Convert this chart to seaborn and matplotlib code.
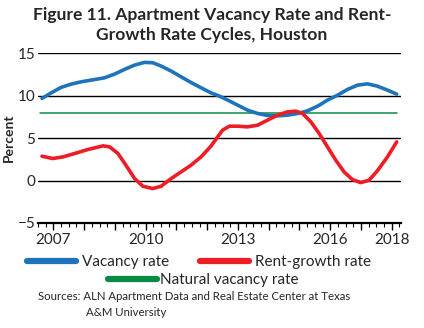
import matplotlib
matplotlib.use("Agg")
import matplotlib.pyplot as plt
import matplotlib.lines as mlines
import seaborn as sns
import pandas as pd
from matplotlib.ticker import FixedLocator, MultipleLocator

vac_years = [2006.63, 2006.93, 2007.25, 2007.58, 2007.90, 2008.23, 2008.66, 2008.99,
             2009.31, 2009.64, 2009.96, 2010.23, 2010.50, 2010.83, 2011.15, 2011.47,
             2011.80, 2012.12, 2012.40, 2012.67, 2012.99, 2013.31, 2013.64, 2013.96,
             2014.29, 2014.61, 2014.94, 2015.26, 2015.59, 2015.91, 2016.24, 2016.56,
             2016.89, 2017.21, 2017.53, 2017.86, 2018.16]
vac_rate = [9.68, 10.34, 10.98, 11.37, 11.64, 11.84, 12.11, 12.55,
            13.10, 13.61, 13.93, 13.89, 13.50, 12.90, 12.23, 11.57,
            10.94, 10.34, 9.95, 9.48, 8.89, 8.30, 7.91, 7.67,
            7.63, 7.71, 7.91, 8.22, 8.77, 9.48, 10.07, 10.74,
            11.25, 11.40, 11.13, 10.66, 10.19]

rent_years = [2006.63, 2006.98, 2007.31, 2007.69, 2008.12, 2008.61, 2008.83, 2009.10,
              2009.36, 2009.64, 2009.91, 2010.23, 2010.50, 2010.83, 2011.15, 2011.47,
              2011.80, 2012.12, 2012.37, 2012.50, 2012.72, 2012.99, 2013.31, 2013.64,
              2013.96, 2014.29, 2014.61, 2014.88, 2015.10, 2015.37, 2015.64, 2015.91,
              2016.18, 2016.45, 2016.72, 2016.99, 2017.26, 2017.53, 2017.86, 2018.16]
rent_rate = [2.87, 2.60, 2.79, 3.19, 3.66, 4.09, 3.97, 3.19,
             1.80, 0.24, -0.67, -0.94, -0.67, 0.24, 1.02, 1.80,
             2.79, 4.05, 5.30, 5.94, 6.41, 6.41, 6.33, 6.53,
             7.12, 7.71, 8.10, 8.18, 7.91, 6.92, 5.55, 3.97,
             2.40, 1.02, 0.12, -0.24, 0.04, 1.14, 2.79, 4.56]

natural_years = [2006.55, 2018.16]
natural_rate = [7.95, 7.95]

year_labels = [2007, 2010, 2013, 2016, 2018]
y_ticks = [-5, 0, 5, 10, 15]

title = "Figure 11. Apartment Vacancy Rate and Rent-\nGrowth Rate Cycles, Houston"
source1 = "Sources: ALN Apartment Data and Real Estate Center at Texas"
source2 = "A&M University"

sns.set_theme(style="white")
plt.rcParams['font.family'] = ['Lato', 'DejaVu Sans']

BLUE = "#1f73ba"
RED = "#ee1c25"
GREEN = "#0a8a45"

fig = plt.figure(figsize=(4.24, 3.28), dpi=100)
ax = fig.add_axes([38/424, (328-223)/328, (401-38)/424, (223-53.3)/328])

for yv in [0, 5, 10, 15]:
    ax.axhline(yv, color="black", lw=1.0, zorder=1)

df_v = pd.DataFrame({"year": vac_years, "value": vac_rate})
df_r = pd.DataFrame({"year": rent_years, "value": rent_rate})
df_n = pd.DataFrame({"year": natural_years, "value": natural_rate})

sns.lineplot(data=df_n, x="year", y="value", ax=ax, color=GREEN, lw=1.1,
             legend=False, zorder=2)
sns.lineplot(data=df_v, x="year", y="value", ax=ax, color=BLUE, lw=2.6,
             legend=False, zorder=3, solid_joinstyle="round", solid_capstyle="round")
sns.lineplot(data=df_r, x="year", y="value", ax=ax, color=RED, lw=2.6,
             legend=False, zorder=4, solid_joinstyle="round", solid_capstyle="round")

ax.set_xlim(2006.5, 2018.3)
ax.set_ylim(-5, 15)
ax.set_yticks(y_ticks)
ax.set_yticklabels(["\u22125", "0", "5", "10", "15"], fontsize=11)
ax.xaxis.set_major_locator(FixedLocator(list(range(2007, 2019))))
ax.xaxis.set_minor_locator(MultipleLocator(0.25))
ax.set_xticklabels([str(y) if y in year_labels else "" for y in range(2007, 2019)], fontsize=11)
ax.tick_params(axis="x", which="major", direction="out", length=5, width=1, color="black", pad=2, bottom=True)
ax.tick_params(axis="x", which="minor", direction="out", length=3, width=0.8, color="black", bottom=True)
ax.tick_params(axis="y", length=0, pad=2)
for s in ["left", "right", "top"]:
    ax.spines[s].set_visible(False)
ax.spines["bottom"].set_color("black")
ax.spines["bottom"].set_linewidth(1.6)
ax.set_xlabel("")
ax.set_ylabel("Percent", fontsize=10, fontweight="bold")
ax.yaxis.set_label_coords(-0.063, 0.5)

def mk(c):
    return mlines.Line2D([], [], color=c, lw=4.5)

fig.legend([mk(BLUE), mk(RED)], ["Vacancy rate", "Rent-growth rate"], ncol=2,
           loc="center", bbox_to_anchor=(0.47, (328-262)/328), frameon=False,
           fontsize=11, handlelength=3.2, handletextpad=0.4, columnspacing=2.0,
           borderpad=0, borderaxespad=0)
fig.legend([mk(GREEN)], ["Natural vacancy rate"], ncol=1,
           loc="center", bbox_to_anchor=(0.48, (328-280)/328), frameon=False,
           fontsize=11, handlelength=3.2, handletextpad=0.2,
           borderpad=0, borderaxespad=0)

fig.text(0.5, (328-25)/328, title, ha="center", va="center", fontsize=12.6,
         fontweight="bold", linespacing=1.3)
fig.text(38/424, (328-297)/328, source1, ha="left", va="center", fontsize=8.2)
fig.text(86/424, (328-312)/328, source2, ha="left", va="center", fontsize=8.2)

fig.savefig("out.png", dpi=100)
